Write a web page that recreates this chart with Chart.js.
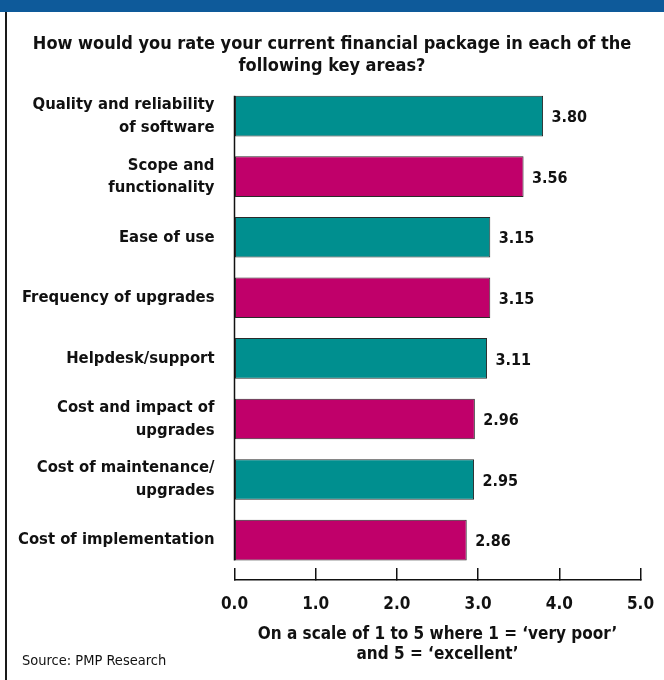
<!DOCTYPE html>
<html>
<head>
<meta charset="utf-8">
<title>Financial package ratings</title>
<script src="https://cdn.jsdelivr.net/npm/chart.js@4.4.0/dist/chart.umd.min.js"></script>
<style>
  html, body { margin: 0; padding: 0; background: #fff; }
  #wrap { position: relative; width: 664px; height: 680px; overflow: hidden; }
  #topband { position: absolute; left: 0; top: 0; width: 664px; height: 12px; background: #0e5a9a; }
  #leftrule { position: absolute; left: 5px; top: 12px; width: 2px; height: 668px; background: #1a1a1a; }
  #source {
    position: absolute; left: 22px; top: 652px;
    font: 14.5px 'DejaVu Sans Condensed', 'Liberation Sans Narrow', 'Roboto', sans-serif;
    color: #111;
  }
  canvas { position: absolute; left: 0; top: 0; }
</style>
</head>
<body>
<div id="wrap">
  <div id="topband"></div>
  <div id="leftrule"></div>
  <canvas id="chartRatings" width="664" height="680"></canvas>
  <div id="source">Source: PMP Research</div>
</div>
<script>
// Dados do gráfico
const categories = [
  ['Quality and reliability', 'of software'],
  ['Scope and', 'functionality'],
  'Ease of use',
  'Frequency of upgrades',
  'Helpdesk/support',
  ['Cost and impact of', 'upgrades'],
  ['Cost of maintenance/', 'upgrades'],
  'Cost of implementation'
];
const ratings = [3.80, 3.56, 3.15, 3.15, 3.11, 2.96, 2.95, 2.86];
const scaleMin = 0;
const scaleMax = 5;
const scaleStep = 1;
const chartTitle = ['How would you rate your current financial package in each of the', 'following key areas?'];
const axisTitle = ['On a scale of 1 to 5 where 1 = \u2018very poor\u2019', 'and 5 = \u2018excellent\u2019'];

const INK = '#111111';
const TEAL = '#008f8f';
const MAGENTA = '#c0006a';
const FONT = "'DejaVu Sans Condensed', 'Liberation Sans Narrow', 'Roboto', sans-serif";

Chart.defaults.font.family = FONT;
Chart.defaults.color = INK;

// linha vertical da base, só na altura das barras
const baselinePlugin = {
  id: 'baseline',
  beforeDatasetsDraw(chart) {
    const bars = chart.getDatasetMeta(0).data;
    if (!bars.length) return;
    const x = chart.scales.x.getPixelForValue(0);
    const first = bars[0];
    const last = bars[bars.length - 1];
    const ctx = chart.ctx;
    ctx.save();
    ctx.strokeStyle = INK;
    ctx.lineWidth = 1.5;
    ctx.beginPath();
    ctx.moveTo(x, first.y - first.height / 2);
    ctx.lineTo(x, last.y + last.height / 2);
    ctx.stroke();
    ctx.restore();
  }
};

// valores ao lado das barras
const valueLabelPlugin = {
  id: 'valueLabels',
  afterDatasetsDraw(chart) {
    const meta = chart.getDatasetMeta(0);
    const ctx = chart.ctx;
    ctx.save();
    ctx.font = 'bold 16px ' + FONT;
    ctx.fillStyle = INK;
    ctx.textAlign = 'left';
    ctx.textBaseline = 'middle';
    meta.data.forEach((bar, i) => {
      ctx.fillText(ratings[i].toFixed(2), bar.x + 8.5, bar.y + 2);
    });
    ctx.restore();
  }
};

new Chart(document.getElementById('chartRatings'), {
  type: 'bar',
  data: {
    labels: categories,
    datasets: [{
      data: ratings,
      backgroundColor: ctx => (ctx.dataIndex % 2 ? MAGENTA : TEAL),
      borderColor: '#2a2a2a',
      borderWidth: 1,
      borderSkipped: false,
      barPercentage: 0.67,
      categoryPercentage: 1,
      xAxisID: 'x',
      yAxisID: 'y'
    }]
  },
  options: {
    indexAxis: 'y',
    responsive: false,
    animation: false,
    layout: { padding: 0 },
    plugins: {
      legend: { display: false },
      tooltip: { enabled: false },
      title: {
        display: true,
        text: chartTitle,
        color: INK,
        font: { size: 18, weight: 'bold', lineHeight: 1.2 },
        padding: { top: 34, bottom: 8.6 }
      }
    },
    scales: {
      x: {
        type: 'linear',
        min: scaleMin,
        max: scaleMax,
        position: 'bottom',
        weight: 0,
        grid: { display: true, drawOnChartArea: false, drawTicks: false, color: 'rgba(0,0,0,0)' },
        border: { display: false },
        ticks: { display: false },
        afterFit(s) { s.height = 9.6; }
      },
      x2: {
        type: 'linear',
        axis: 'x',
        min: scaleMin,
        max: scaleMax,
        position: 'bottom',
        weight: 1,
        grid: { drawOnChartArea: false, drawTicks: true, tickLength: -12, color: INK, lineWidth: 1.5 },
        border: { display: true, color: INK, width: 1.5 },
        ticks: {
          stepSize: scaleStep,
          padding: 26,
          color: INK,
          font: { size: 17, weight: 'bold', lineHeight: 1.2 },
          callback: v => v.toFixed(1)
        },
        title: {
          display: true,
          text: axisTitle,
          color: INK,
          font: { size: 17, weight: 'bold', lineHeight: 20 / 17 },
          padding: { top: 0, bottom: 15 }
        },
        afterFit(s) {
          s.height = 100;
          s.paddingLeft = 0;
          s.paddingRight = 23.5;
        }
      },
      y: {
        grid: { display: false },
        border: { display: false },
        ticks: {
          color: INK,
          padding: 12,
          font: { size: 16.5, weight: 'bold', lineHeight: 1.38 }
        },
        afterFit(s) { s.width = 234.5; }
      }
    }
  },
  plugins: [baselinePlugin, valueLabelPlugin]
});
</script>
</body>
</html>
